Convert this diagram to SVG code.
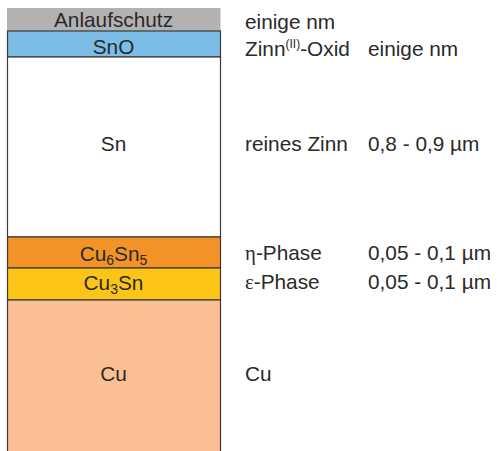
<svg xmlns="http://www.w3.org/2000/svg" width="497" height="451" viewBox="0 0 497 451">
<style>
  .t { font-family: "Liberation Sans", Arial, sans-serif; font-size: 20.8px; fill: #2a2a2a; }
  .c { text-anchor: middle; }
  .g { font-family: "Liberation Serif", "Times New Roman", serif; }
  .layer { stroke: #3a3a3a; stroke-width: 1.2; }
</style>
<rect width="497" height="451" fill="#ffffff"/>
<g id="anlaufschutz">
  <rect x="7" y="8" width="213.5" height="23" fill="#b2b2b2"/>
  <text class="t c" x="113.5" y="27">Anlaufschutz</text>
</g>
<g id="sno">
  <rect class="layer" x="7.5" y="31" width="213" height="26" fill="#7cbde8"/>
  <text class="t c" x="113.5" y="54">SnO</text>
</g>
<g id="sn">
  <rect class="layer" x="7.5" y="57" width="213" height="180" fill="#ffffff"/>
  <text class="t c" x="113.5" y="151">Sn</text>
</g>
<g id="cu6sn5">
  <rect class="layer" x="7.5" y="237" width="213" height="31" fill="#f39226"/>
  <text class="t c" x="113.5" y="261">Cu<tspan font-size="14" dy="4">6</tspan><tspan dy="-4">Sn</tspan><tspan font-size="14" dy="4">5</tspan></text>
</g>
<g id="cu3sn">
  <rect class="layer" x="7.5" y="268" width="213" height="32" fill="#fcc417"/>
  <text class="t c" x="113.5" y="290">Cu<tspan font-size="14" dy="4">3</tspan><tspan dy="-4">Sn</tspan></text>
</g>
<g id="cu">
  <rect class="layer" x="7.5" y="300" width="213" height="160" fill="#fbbf94"/>
  <text class="t c" x="113.5" y="381">Cu</text>
</g>
<g id="labels">
  <text class="t" x="245" y="29">einige nm</text>
  <text class="t" x="245" y="56">Zinn<tspan font-size="12" dy="-8">(II)</tspan><tspan dy="8">-Oxid</tspan></text>
  <text class="t" x="368" y="56">einige nm</text>
  <text class="t" x="245" y="151">reines Zinn</text>
  <text class="t" x="368" y="151">0,8 - 0,9 µm</text>
  <text class="t" x="245" y="260"><tspan class="g">η</tspan>-Phase</text>
  <text class="t" x="368" y="260">0,05 - 0,1 µm</text>
  <text class="t" x="245" y="289"><tspan class="g">ε</tspan>-Phase</text>
  <text class="t" x="368" y="289">0,05 - 0,1 µm</text>
  <text class="t" x="245" y="381">Cu</text>
</g>
<g id="connectors"></g>
</svg>
